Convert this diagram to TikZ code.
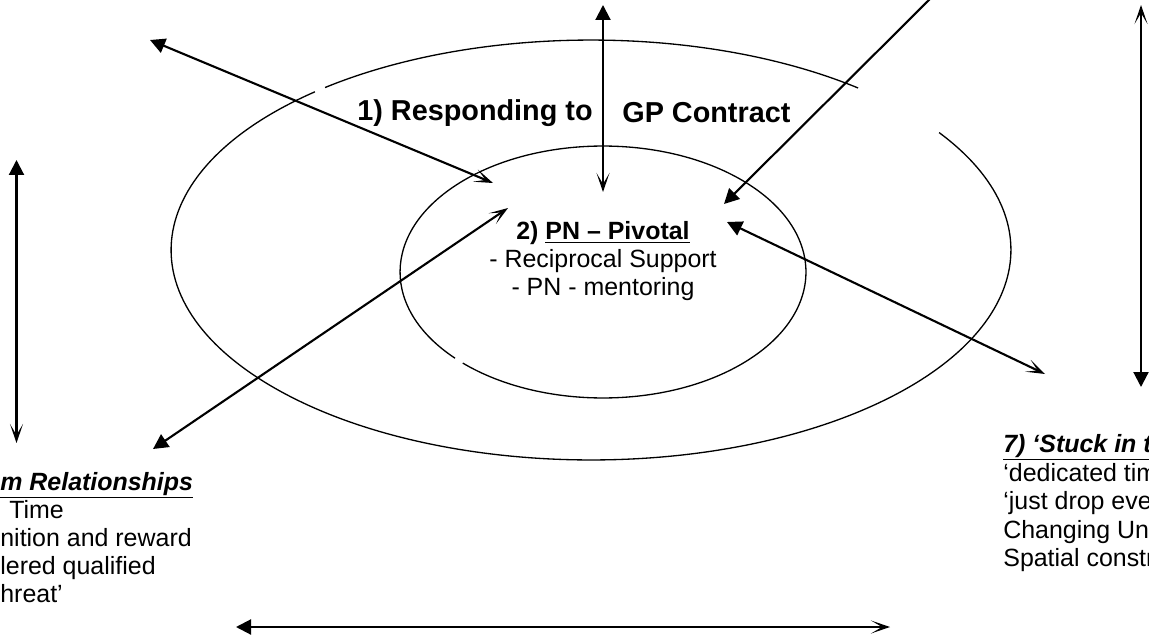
\documentclass[tikz,border=0pt]{standalone}
\usepackage{fontspec}
\setmainfont{Liberation Sans}
\usetikzlibrary{arrows.meta}

\tikzset{
    fillhead/.tip={Triangle[length=3mm,width=3mm]},
    barbhead/.tip={Stealth[length=3.8mm,width=2.6mm,inset=2.2mm]}
}

\begin{document}
\begin{tikzpicture}[x=0.02cm, y=-0.02cm,
    ring/.style={line width=0.75pt},
    arr/.style={line width=1.2pt},
    txt/.style={inner sep=0pt, font=\fontsize{14.2}{15.9}\selectfont},
    bigtxt/.style={inner sep=0pt, font=\fontsize{16.4}{19}\selectfont\bfseries}
]
    \useasboundingbox (0,0) rectangle (1149,635);
    \clip (0,0) rectangle (1149,635);

    % outer and inner ring
    \draw[ring] (591,250) ++(50.5:8.4cm and 4.2cm)
        arc[start angle=50.5, end angle=129.3, x radius=8.4cm, y radius=4.2cm];
    \draw[ring] (591,250) ++(131.1:8.4cm and 4.2cm)
        arc[start angle=131.1, end angle=394, x radius=8.4cm, y radius=4.2cm];
    \draw[ring] (603,272) ++(226.3:4.06cm and 2.52cm)
        arc[start angle=226.3, end angle=583.2, x radius=4.06cm, y radius=2.52cm];

    % texts
    \node[bigtxt, anchor=east] (resp) at (593,113) {1) Responding to};
    \node[bigtxt, anchor=west] (gpc) at (622,113) {GP Contract};
    \node[txt, align=center] (pn) at (603,261)
        {\textbf{2) \underline{PN – Pivotal}}\\- Reciprocal Support\\- PN - mentoring};

    \node[txt, anchor=base west] (teamhd) at (0,490) {\textbf{\textit{\underline{m Relationships}}}};
    \node[txt, anchor=base west] (team1) at (9,518) {Time};
    \node[txt, anchor=base west] (team2) at (0,546) {nition and reward};
    \node[txt, anchor=base west] (team3) at (0,574) {lered qualified};
    \node[txt, anchor=base west] (team4) at (0,602) {hreat’};

    \node[txt, anchor=base west] (stuckhd) at (1003,452) {\textbf{\textit{\underline{7) ‘Stuck in t}}}};
    \node[txt, anchor=base west] (stuck1) at (1003,481) {‘dedicated tim};
    \node[txt, anchor=base west] (stuck2) at (1003,509) {‘just drop eve};
    \node[txt, anchor=base west] (stuck3) at (1003,538) {Changing Un};
    \node[txt, anchor=base west] (stuck4) at (1003,566) {Spatial constr};

    % arrow ends
    \coordinate (lvtop) at (16.5,160);
    \coordinate (lvbot) at (16.5,443);
    \coordinate (rvtop) at (1141,5);
    \coordinate (rvbot) at (1141,387);
    \coordinate (cvtop) at (603,5);
    \coordinate (cvbot) at (603,192);
    \coordinate (tlout) at (150,40);
    \coordinate (tlin) at (493,183);
    \coordinate (trout) at (932,-3);
    \coordinate (trin) at (724,204);
    \coordinate (rdin) at (727,222);
    \coordinate (rdout) at (1045,374);
    \coordinate (ldout) at (153,449);
    \coordinate (ldin) at (508,208);
    \coordinate (bhleft) at (236,627);
    \coordinate (bhright) at (890,627);

    \draw[arr, fillhead-barbhead] (lvtop) -- (lvbot);
    \draw[arr, barbhead-fillhead] (rvtop) -- (rvbot);
    \draw[arr, fillhead-barbhead] (cvtop) -- (cvbot);
    \draw[arr, fillhead-barbhead] (tlout) -- (tlin);
    \draw[arr, -fillhead] (trout) -- (trin);
    \draw[arr, fillhead-barbhead] (rdin) -- (rdout);
    \draw[arr, fillhead-barbhead] (ldout) -- (ldin);
    \draw[arr, fillhead-barbhead] (bhleft) -- (bhright);
\end{tikzpicture}
\end{document}
